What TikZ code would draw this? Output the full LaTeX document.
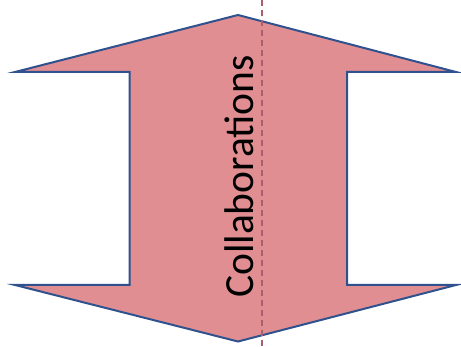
\documentclass[tikz,border=0pt]{standalone}
\usepackage{fontspec}
\setmainfont{Carlito}
\definecolor{arrowfill}{RGB}{224,142,145}
\definecolor{arrowline}{RGB}{47,82,143}
\definecolor{dashcol}{RGB}{170,95,110}
\begin{document}
\begin{tikzpicture}[x=1pt,y=-1pt,
  arrowshape/.style={fill=arrowfill,draw=arrowline,line width=2pt,line join=miter},
  midline/.style={draw=dashcol,line width=1.3pt,dash pattern=on 6pt off 4pt},
  label/.style={font=\fontsize{41.5}{45}\selectfont,rotate=90,anchor=base,inner sep=0pt}]
\useasboundingbox (0,0) rectangle (461,347);
\coordinate (T) at (238,15);
\coordinate (B) at (238,341.5);
\draw[arrowshape] (T) -- (456,72) -- (347,72) -- (347,285) -- (456,285) -- (B)
  -- (15,285) -- (129.5,285) -- (129.5,72) -- (15,72) -- cycle;
\coordinate (dtop) at (262,0);
\coordinate (dbot) at (262,347);
\draw[midline] (dtop) -- (dbot);
\node[label] (txt) at (253,176.5) {Collaborations};
\end{tikzpicture}
\end{document}
